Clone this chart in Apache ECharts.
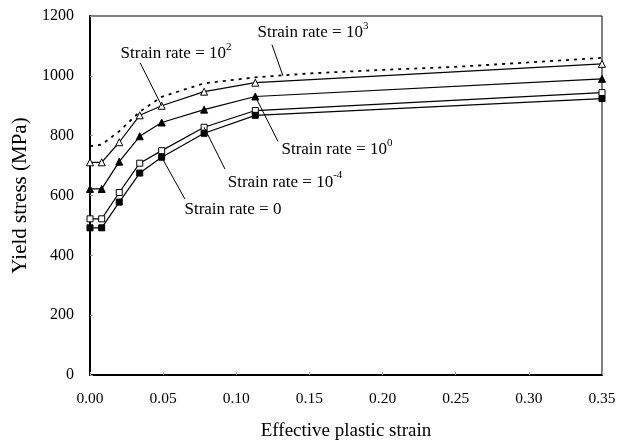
<!DOCTYPE html>
<html>
<head>
<meta charset="utf-8">
<script src="https://cdn.jsdelivr.net/npm/echarts@6/dist/echarts.min.js"></script>
<style>
  html, body { margin: 0; padding: 0; background: #fff; }
  #chart { width: 630px; height: 446px; }
</style>
</head>
<body>
<div id="chart"></div>
<script>
// Effective plastic strain at which the marked curves are sampled
const strainMarked = [0, 0.008, 0.02, 0.034, 0.049, 0.078, 0.113, 0.35];
// Yield stress (MPa) for each strain rate
const rate0   = [492, 492, 578, 675, 728, 808, 868, 924];
const rateM4  = [522, 522, 610, 708, 750, 828, 884, 944];
const rateE0  = [622, 622, 713, 798, 844, 887, 931, 990];
const rateE2  = [711, 711, 778, 868, 900, 947, 977, 1040];
// Strain rate 10^3 curve (dashed, no markers)
const strainE3 = [0, 0.008, 0.02, 0.034, 0.049, 0.078, 0.113, 0.15, 0.20, 0.25, 0.30, 0.35];
const rateE3   = [765, 770, 815, 880, 930, 975, 995, 1008, 1020, 1030, 1045, 1060];

// Axis ticks
const xTicks = { min: 0, max: 0.35, step: 0.05 };
const yTicks = { min: 0, max: 1200, step: 200 };

// Curve labels: text, label centre [strain, stress], leader start, leader end
const notes = [
  { base: 'Strain rate = 10', sup: '2',  at: [0.0588, 1074], from: [0.0342, 1044], to: [0.049, 900] },
  { base: 'Strain rate = 10', sup: '3',  at: [0.1524, 1144], from: [0.1244, 1104], to: [0.1319, 1000] },
  { base: 'Strain rate = 10', sup: '0',  at: [0.1688, 755],  from: [0.1285, 781],  to: [0.113, 931] },
  { base: 'Strain rate = 10', sup: '-4', at: [0.1333, 645],  from: [0.0923, 688],  to: [0.078, 828] },
  { base: 'Strain rate = 0',  sup: '',   at: [0.0977, 552],  from: [0.0649, 588],  to: [0.049, 728] }
];

const FONT = 'Liberation Serif';
const pairs = (xs, ys) => xs.map((x, i) => [x, ys[i]]);

function noteMarks(list) {
  return {
    markLine: {
      silent: true,
      symbol: ['none', 'none'],
      label: { show: false },
      lineStyle: { color: '#000', width: 1, type: 'solid' },
      data: list.map(n => [{ coord: n.from }, { coord: n.to }])
    },
    markPoint: {
      silent: true,
      symbol: 'circle',
      symbolSize: 0,
      itemStyle: { color: 'transparent' },
      data: list.map(n => ({
        coord: n.at,
        label: {
          show: true,
          position: 'inside',
          formatter: n.sup ? '{b|' + n.base + '}{s|' + n.sup + '}' : '{b|' + n.base + '}',
          rich: {
            b: { fontFamily: FONT, fontSize: 17, color: '#000', lineHeight: 24 },
            s: { fontFamily: FONT, fontSize: 11, color: '#000', lineHeight: 12, verticalAlign: 'top' }
          }
        }
      }))
    }
  };
}

function markedSeries(name, values, symbol, filled, size, list) {
  return Object.assign({
    name: name,
    type: 'line',
    data: pairs(strainMarked, values),
    symbol: symbol,
    symbolSize: size,
    showAllSymbol: true,
    lineStyle: { color: '#000', width: 1.2 },
    itemStyle: { color: filled ? '#000' : '#fff', borderColor: '#000', borderWidth: 1 },
    z: 3
  }, noteMarks(list));
}

const chart = echarts.init(document.getElementById('chart'), null, { renderer: 'canvas' });

chart.setOption({
  animation: false,
  backgroundColor: '#fff',
  grid: { left: 90, right: 28, top: 16, bottom: 69, show: true, borderColor: '#000', borderWidth: 1 },
  xAxis: {
    type: 'value',
    min: xTicks.min, max: xTicks.max, interval: xTicks.step,
    name: 'Effective plastic strain',
    nameLocation: 'middle',
    nameGap: 47,
    nameTextStyle: { fontFamily: FONT, fontSize: 19, color: '#000' },
    axisLine: { show: true, lineStyle: { color: '#000', width: 2 } },
    axisTick: { show: true, inside: true, length: 3, lineStyle: { color: '#999' } },
    splitLine: { show: false },
    axisLabel: {
      margin: 16,
      fontFamily: FONT, fontSize: 15.5, color: '#000',
      formatter: v => v.toFixed(2)
    }
  },
  yAxis: {
    type: 'value',
    min: yTicks.min, max: yTicks.max, interval: yTicks.step,
    name: 'Yield stress (MPa)',
    nameLocation: 'middle',
    nameGap: 58,
    nameTextStyle: { fontFamily: FONT, fontSize: 21, color: '#000' },
    axisLine: { show: true, lineStyle: { color: '#000', width: 2 } },
    axisTick: { show: true, inside: true, length: 3, lineStyle: { color: '#999' } },
    splitLine: { show: false },
    axisLabel: { margin: 16, fontFamily: FONT, fontSize: 16, color: '#000', formatter: v => String(v) }
  },
  series: [
    {
      name: 'Strain rate = 10^3',
      type: 'line',
      data: pairs(strainE3, rateE3),
      symbol: 'none',
      lineStyle: { color: '#000', width: 1.8, type: [3, 5] },
      z: 2,
      ...noteMarks([notes[1]])
    },
    markedSeries('Strain rate = 10^2', rateE2, 'triangle', false, 7, [notes[0]]),
    markedSeries('Strain rate = 10^0', rateE0, 'triangle', true, 7, [notes[2]]),
    markedSeries('Strain rate = 10^-4', rateM4, 'rect', false, 6, [notes[3]]),
    markedSeries('Strain rate = 0', rate0, 'rect', true, 6, [notes[4]])
  ]
});
</script>
</body>
</html>
